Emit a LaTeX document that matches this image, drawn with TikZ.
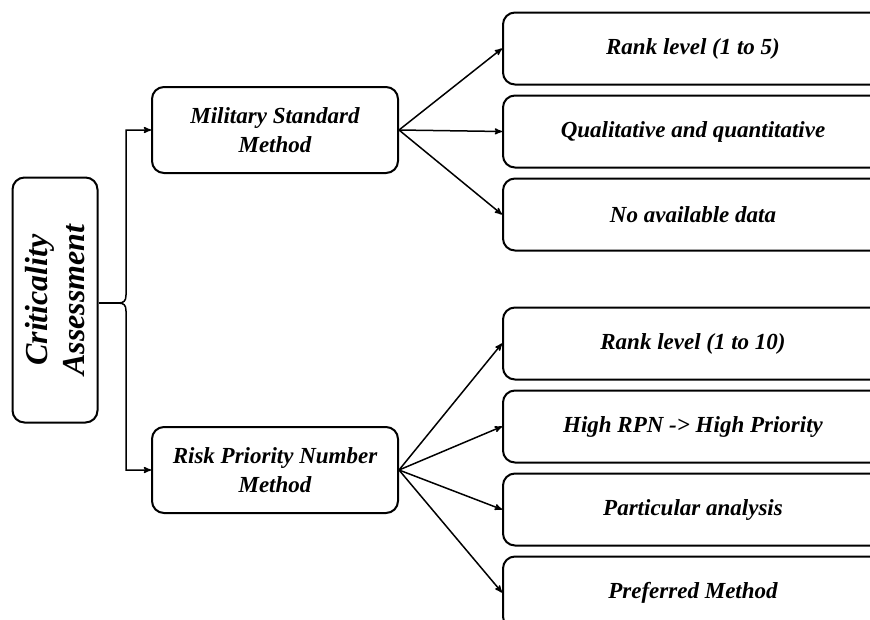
\documentclass[tikz,border=0pt]{standalone}
\usepackage{fontspec}
\setmainfont{Liberation Serif}
\usetikzlibrary{arrows,positioning}

\begin{document}
\begin{tikzpicture}[x=1pt,y=-1pt,->,>=stealth',line width=1.5pt,node distance=9pt,
  box node/.style={draw,solid,rounded corners=12pt,line width=2pt,align=center,
  font=\fontsize{23}{29}\selectfont\bfseries\itshape},
  method node/.style={box node,minimum width=246pt,minimum height=86pt},
  item node/.style={box node,minimum width=380pt,minimum height=72pt}]

  \clip (0,0) rectangle (870,619);

  \node[box node,rotate=90,minimum width=245pt,minimum height=85pt,
    font=\fontsize{32}{37}\selectfont\bfseries\itshape] (crit) at (55,300)
    {Criticality\\Assessment};

  \node[method node] (msm) at (275,130) {Military Standard\\Method};
  \node[method node] (rpn) at (275,470) {Risk Priority Number\\Method};

  \node[item node] (r1) at (693,48.5) {Rank level (1 to 5)};
  \node[item node] (r2) [below=of r1] {Qualitative and quantitative};
  \node[item node] (r3) [below=of r2] {No available data};

  \node[item node] (r4) at (693,343.5) {Rank level (1 to 10)};
  \node[item node] (r5) [below=of r4] {High RPN -> High Priority};
  \node[item node] (r6) [below=of r5] {Particular analysis};
  \node[item node] (r7) [below=of r6] {Preferred Method};

  % bracket from the assessment box to both methods
  \coordinate (cusp) at (118,303);
  \draw[-] (crit.south |- cusp) -- (cusp);
  \draw (cusp) .. controls (124,303) and (126,301) .. (126,295) |- (msm.west);
  \draw (cusp) .. controls (124,303) and (126,305) .. (126,311) |- (rpn.west);

  \path (msm.east) edge (r1.west)
                   edge (r2.west)
                   edge (r3.west)
        (rpn.east) edge (r4.west)
                   edge (r5.west)
                   edge (r6.west)
                   edge (r7.west);
\end{tikzpicture}
\end{document}
